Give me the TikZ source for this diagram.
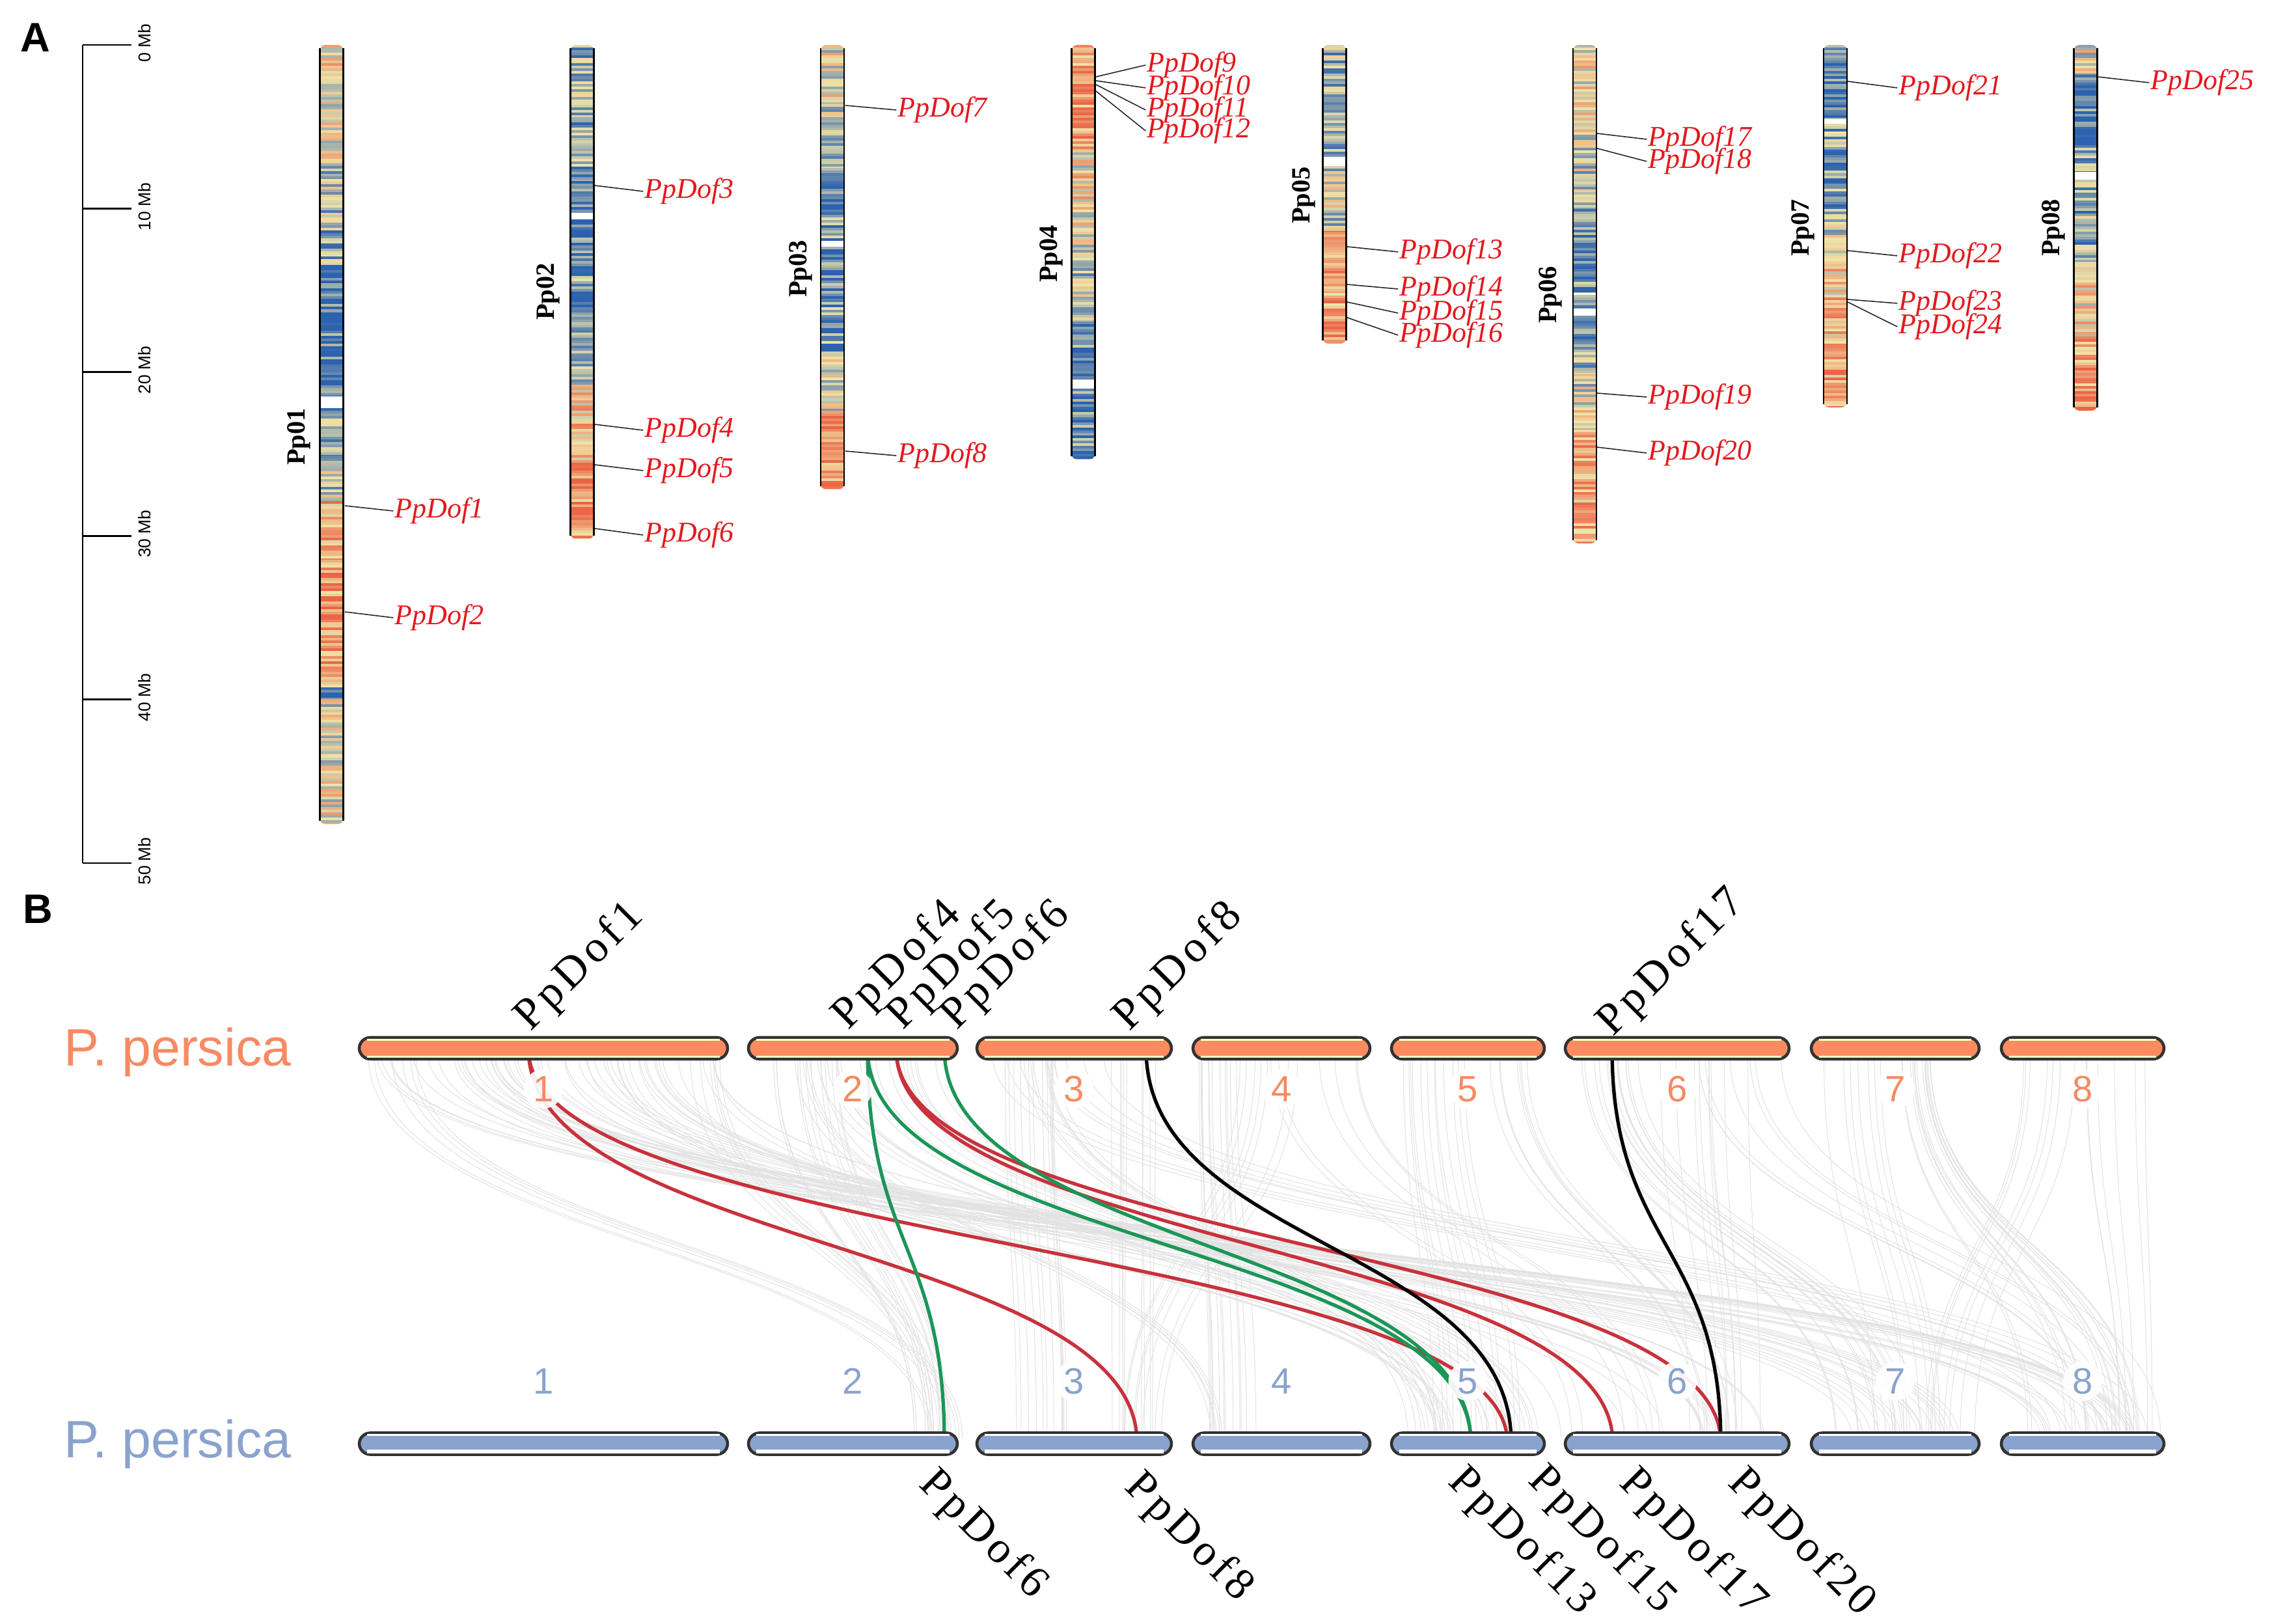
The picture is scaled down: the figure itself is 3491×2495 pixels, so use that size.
\documentclass[tikz,border=0pt]{standalone}
\usepackage{fontspec}
\setmainfont{Liberation Serif}
\setsansfont{Liberation Sans}
\newfontfamily\spacedserif[LetterSpace=10]{Liberation Serif}
\usetikzlibrary{calc}

\definecolor{hblue}{RGB}{44,98,175}
\definecolor{hpale}{RGB}{240,228,168}
\definecolor{hred}{RGB}{236,100,70}
\definecolor{genered}{RGB}{228,24,30}
\definecolor{porange}{RGB}{247,138,98}
\definecolor{pblue}{RGB}{138,163,206}
\definecolor{barO}{RGB}{252,140,95}
\definecolor{barB}{RGB}{138,163,206}
\definecolor{barborder}{RGB}{50,50,50}
\definecolor{linkred}{RGB}{200,50,60}
\definecolor{linkgreen}{RGB}{28,150,88}
\definecolor{glinec}{RGB}{226,226,226}

\tikzset{
  chromoedge/.style={line width=0.8pt, black},
  gline/.style={line width=0.45pt, black!85},
  glab/.style={inner sep=0pt, text=genered, font=\itshape\fontsize{12.5}{13}\selectfont},
  chrname/.style={inner sep=0pt, font=\bfseries\fontsize{11.5}{12}\selectfont, rotate=90},
  mblab/.style={inner sep=0pt, font=\sffamily\fontsize{7.5}{8}\selectfont, rotate=90},
  panel/.style={inner sep=0pt, font=\sffamily\bfseries\fontsize{18}{18}\selectfont},
  species/.style={inner sep=0pt, anchor=west, font=\sffamily\fontsize{23}{24}\selectfont},
  topbar/.style={draw=barborder, line width=1.3pt, fill=barO, rounded corners=4.8pt, minimum height=0.33cm, inner sep=0pt},
  botbar/.style={draw=barborder, line width=1.3pt, fill=barB, rounded corners=4.8pt, minimum height=0.33cm, inner sep=0pt},
  barhl/.style={white!80!yellow, line width=0.9pt},
  numdisc/.style={circle, fill=white, fill opacity=0.92, text opacity=1, inner sep=0pt, minimum size=0.6cm, font=\sffamily\fontsize{16}{16}\selectfont},
  glink/.style={glinec, line width=0.28pt},
  redlink/.style={linkred, line width=1.5pt},
  greenlink/.style={linkgreen, line width=1.5pt},
  blacklink/.style={black, line width=1.5pt},
  toplab/.style={inner sep=0pt, anchor=base west, rotate=45, font=\spacedserif\fontsize{19.5}{20}\selectfont},
  botlab/.style={inner sep=0pt, anchor=base west, rotate=-45, font=\spacedserif\fontsize{19.5}{20}\selectfont},
}

\newcommand\stripes[4]{%
  \pgfmathtruncatemacro\nst{(#3-#2)/4}%
  \foreach \k in {0,...,\nst}{%
    \pgfmathsetmacro\sth{max(0,min(1,#4+0.6*(rnd-0.5)))}%
    \ifdim\sth pt<0.5pt
      \pgfmathsetmacro\stp{200*\sth}%
      \colorlet{stc}{hpale!\stp!hblue}%
    \else
      \pgfmathsetmacro\stp{200*\sth-100}%
      \colorlet{stc}{hred!\stp!hpale}%
    \fi
    \fill[stc] (#1-20,#2+4*\k) rectangle (#1+20,#2+4*\k+4.5);
  }}

\newcommand\chromo[6]{%
  \begin{scope}
    \clip[rounded corners=2.5pt] (#2-18,#3) rectangle (#2+18,#4);
    \fill[hpale] (#2-18,#3) rectangle (#2+18,#4);
    \foreach \ya/\yb/\hm in {#5} {\stripes{#2}{\ya}{\yb}{\hm}}
    \foreach \ga/\gb in {#6} {\fill[white] (#2-18,\ga) rectangle (#2+18,\gb);}
  \end{scope}
  \draw[chromoedge] (#2-18,#3+5) -- (#2-18,#4-5);
  \draw[chromoedge] (#2+18,#3+5) -- (#2+18,#4-5);
  \node[inner sep=0pt, minimum width=0.36cm, minimum height={(#4-#3)*0.01cm}] (#1) at (#2,{(#3+#4)/2}) {};
}

\newcommand\gbundle[5]{%
  \foreach \gi in {1,...,#5}{%
    \pgfmathsetmacro\gf{rnd}%
    \pgfmathsetmacro\gxa{#1+(#2-#1)*\gf}%
    \pgfmathsetmacro\gxb{#3+(#4-#3)*(\gf+0.12*(rnd-0.5))}%
    \draw[glink] (\gxa,1620) .. controls (\gxa,1915) and (\gxb,1915) .. (\gxb,2210);
  }}

\newcommand\synlink[3]{%
  \path (#1) -- (#2) coordinate[pos=0.5] (lkm);
  \draw[#3] (#1) .. controls (#1 |- lkm) and (#2 |- lkm) .. (#2);
}

\begin{document}
\begin{tikzpicture}[x=0.01cm,y=-0.01cm]
\pgfmathsetseed{7}
\useasboundingbox (0,0) rectangle (3491,2495);
\fill[white] (0,0) rectangle (3491,2495);

% ---------------- Panel A ----------------
\node[panel] (lA) at (54,58) {A};
\draw[line width=0.8pt] (127,69) -- (127,1326);
\foreach \i/\lab in {0/0 Mb, 1/10 Mb, 2/20 Mb, 3/30 Mb, 4/40 Mb, 5/50 Mb}{
  \draw[line width=0.8pt] (127,{69+251.4*\i}) -- (202,{69+251.4*\i});
  \node[mblab] (mb\i) at (222,{66+251.4*\i}) {\lab};
}

\chromo{Pp01}{509.5}{69}{1266}{69/160/0.55, 160/251/0.45, 251/330/0.35, 330/403/0.3, 403/480/0.15, 480/609/0.1, 627/700/0.3, 700/770/0.4, 770/860/0.7, 860/960/0.8, 960/1056/0.75, 1056/1074/0.05, 1074/1160/0.45, 1160/1266/0.5}{609/627}
\chromo{Pp02}{894.5}{69}{828}{69/180/0.3, 180/278/0.25, 278/327/0.08, 337/420/0.12, 420/483/0.2, 483/591/0.35, 591/707/0.62, 707/828/0.82}{327/337}
\chromo{Pp03}{1279}{69}{752}{69/160/0.5, 160/258/0.4, 258/370/0.2, 379/460/0.12, 460/540/0.2, 540/631/0.45, 631/752/0.78}{370/379}
\chromo{Pp04}{1664.5}{69}{706}{69/230/0.8, 230/356/0.55, 356/494/0.38, 494/583/0.12, 597/706/0.15}{583/597}
\chromo{Pp05}{2050.5}{69}{528}{69/241/0.3, 255/356/0.4, 356/450/0.75, 450/528/0.8}{241/255}
\chromo{Pp06}{2435}{69}{835}{69/195/0.55, 195/321/0.42, 321/450/0.15, 453/474/0.15, 485/574/0.25, 574/660/0.45, 660/835/0.72}{450/453, 474/485}
\chromo{Pp07}{2820}{69}{626}{69/183/0.15, 190/321/0.22, 321/413/0.42, 413/520/0.65, 520/626/0.72}{183/190}
\chromo{Pp08}{3204.5}{69}{631}{69/115/0.45, 115/264/0.18, 276/402/0.25, 402/517/0.55, 517/631/0.78}{264/276}

\node[chrname] (n1) at (459,671) {Pp01};
\node[chrname] (n2) at (842,448) {Pp02};
\node[chrname] (n3) at (1230,413) {Pp03};
\node[chrname] (n4) at (1615,390) {Pp04};
\node[chrname] (n5) at (2003,300) {Pp05};
\node[chrname] (n6) at (2382,453) {Pp06};
\node[chrname] (n7) at (2770,350) {Pp07};
\node[chrname] (n8) at (3155,350) {Pp08};

% gene labels: name / edge x / gene y / label x / label y
\foreach \g/\ex/\gy/\lx/\ly in {
  1/530/777/606/785, 2/530/940/606/949,
  3/914/285/990/294, 4/914/652/990/661, 5/914/714/990/723, 6/914/812/990/822,
  7/1299/162/1379/169, 8/1299/693/1379/700,
  9/1684/118/1762/100, 10/1684/124/1762/135, 11/1684/130/1762/169, 12/1684/140/1762/201,
  13/2070/379/2150/387, 14/2070/437/2150/444, 15/2070/464/2150/481, 16/2070/488/2150/515,
  17/2454/205/2532/214, 18/2454/228/2532/248, 19/2454/604/2532/610, 20/2454/687/2532/696,
  21/2839/125/2917/135, 22/2839/385/2917/393, 23/2839/460/2917/466, 24/2839/464/2917/502,
  25/3223/118/3304/127}{
  \coordinate (ce\g) at (\ex,\gy);
  \node[glab, anchor=west] (ga\g) at (\lx,\ly) {PpDof\g};
  \draw[gline] (ce\g) -- ([xshift=-0.5pt]ga\g.west);
}

% ---------------- Panel B ----------------
\node[panel] (lB) at (58,1397) {B};

% background synteny
\gbundle{560}{800}{3120}{3300}{18}
\gbundle{650}{950}{2840}{3020}{16}
\gbundle{850}{1100}{2480}{2720}{12}
\gbundle{900}{1100}{2160}{2340}{8}
\gbundle{560}{660}{1420}{1500}{6}
\gbundle{1000}{1110}{1380}{1460}{6}
\gbundle{1180}{1300}{1400}{1465}{12}
\gbundle{1250}{1460}{2180}{2420}{16}
\gbundle{1200}{1300}{1850}{1900}{5}
\gbundle{1520}{1620}{1540}{1640}{12}
\gbundle{1700}{1790}{1700}{1790}{9}
\gbundle{1560}{1650}{2150}{2250}{7}
\gbundle{1520}{1700}{3150}{3300}{8}
\gbundle{1840}{1900}{1855}{1930}{12}
\gbundle{1900}{2000}{1720}{1790}{7}
\gbundle{1950}{2100}{2420}{2560}{6}
\gbundle{2150}{2250}{2200}{2340}{12}
\gbundle{2250}{2370}{2560}{2700}{7}
\gbundle{2430}{2520}{2820}{2960}{14}
\gbundle{2550}{2700}{2600}{2720}{9}
\gbundle{2600}{2740}{3200}{3320}{7}
\gbundle{2920}{2970}{3110}{3300}{16}
\gbundle{2800}{2900}{2880}{3000}{7}
\gbundle{3100}{3200}{2950}{3040}{7}
\gbundle{3200}{3320}{3250}{3320}{6}

% gene positions
\coordinate (T1) at (812,1612);
\coordinate (T4) at (1333,1612);
\coordinate (T5) at (1377,1612);
\coordinate (T6) at (1451,1612);
\coordinate (T8) at (1761,1612);
\coordinate (T17) at (2477,1612);
\coordinate (B6) at (1451,2216);
\coordinate (B8) at (1747,2216);
\coordinate (B13) at (2260,2216);
\coordinate (B15) at (2322,2216);
\coordinate (B15r) at (2316,2216);
\coordinate (B17) at (2478,2216);
\coordinate (B20) at (2644,2216);

\synlink{T1}{B8}{redlink}
\synlink{T1}{B15r}{redlink}
\synlink{T5}{B17}{redlink}
\synlink{T5}{B20}{redlink}
\synlink{T4}{B6}{greenlink}
\synlink{T4}{B13}{greenlink}
\synlink{T6}{B13}{greenlink}
\synlink{T8}{B15}{blacklink}
\synlink{T17}{B20}{blacklink}

% bars
\foreach \n/\a/\b in {1/552/1118, 2/1150/1471, 3/1501/1800, 4/1833/2105, 5/2138/2373, 6/2405/2749, 7/2783/3041, 8/3075/3325}{
  \node[topbar, minimum width={(\b-\a)*0.01cm}] (t\n) at ({(\a+\b)/2},1610.5) {};
  \node[botbar, minimum width={(\b-\a)*0.01cm}] (b\n) at ({(\a+\b)/2},2218) {};
  \draw[barhl] ([xshift=4pt,yshift=-1.6pt]t\n.north west) -- ([xshift=-4pt,yshift=-1.6pt]t\n.north east);
  \draw[barhl] ([xshift=4pt,yshift=1.6pt]t\n.south west) -- ([xshift=-4pt,yshift=1.6pt]t\n.south east);
  \draw[white, line width=0.9pt] ([xshift=4pt,yshift=-1.6pt]b\n.north west) -- ([xshift=-4pt,yshift=-1.6pt]b\n.north east);
  \draw[white, line width=1.6pt] ([xshift=4pt,yshift=2pt]b\n.south west) -- ([xshift=-4pt,yshift=2pt]b\n.south east);
  \node[numdisc, text=porange] (nt\n) at ({(\a+\b)/2},1673) {\n};
  \node[numdisc, text=pblue] (nb\n) at ({(\a+\b)/2},2122) {\n};
}

\node[species, text=porange] (sp1) at (98,1617) {P. persica};
\node[species, text=pblue] (sp2) at (98,2219) {P. persica};

% gene labels on bars
\node[toplab] (lt1) at (815,1586) {PpDof1};
\node[toplab] (lt4) at (1303,1584) {PpDof4};
\node[toplab] (lt5) at (1387,1584) {PpDof5};
\node[toplab] (lt6) at (1470,1584) {PpDof6};
\node[toplab] (lt8) at (1735,1586) {PpDof8};
\node[toplab] (lt17) at (2478,1594) {PpDof17};

\node[botlab] (lb6) at (1410,2282) {PpDof6};
\node[botlab] (lb8) at (1726,2286) {PpDof8};
\node[botlab] (lb13) at (2223,2278) {PpDof13};
\node[botlab] (lb15) at (2346,2276) {PpDof15};
\node[botlab] (lb17) at (2486,2280) {PpDof17};
\node[botlab] (lb20) at (2653,2280) {PpDof20};
\end{tikzpicture}
\end{document}
